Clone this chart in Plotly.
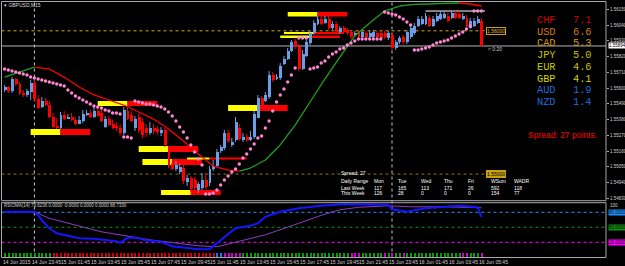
import plotly.graph_objects as go

# ---------------- data (GBPUSD M15, bar index 0 = 14 Jun 2015 22:00) ----------------
opens = [1.55587,1.55608,1.55580,1.55664,1.55629,1.55566,1.55552,1.55573,1.55636,1.55524,
         1.55475,1.55517,1.55489,1.55405,1.55342,1.55328,1.55419,1.55391,1.55405,1.55384,
         1.55356,1.55377,1.55419,1.55433,1.55405,1.55447,1.55433,1.55335,1.55391,1.55356,
         1.55342,1.55328,1.55287,1.55447,1.55419,1.55322,1.55405,1.55370,1.55322,1.55287,
         1.55328,1.55315,1.55287,1.55308,1.55175,1.55077,1.55042,1.55021,1.55049,1.54945,
         1.54973,1.54959,1.54889,1.54903,1.54959,1.54938,1.55042,1.55063,1.55168,1.55182,
         1.55287,1.55203,1.55238,1.55328,1.55238,1.55259,1.55238,1.55259,1.55398,1.55531,
         1.55517,1.55538,1.55698,1.55671,1.55671,1.55775,1.55810,1.55866,1.55929,1.55887,
         1.55740,1.55831,1.55915,1.55985,1.56054,1.56089,1.56061,1.56089,1.56020,1.56054,
         1.55992,1.56020,1.56006,1.55992,1.55971,1.55992,1.55957,1.55985,1.55957,1.55957,
         1.55985,1.55985,1.55985,1.55950,1.55971,1.55880,1.55922,1.55957,1.55922,1.55957,
         1.55985,1.56040,1.56054,1.56054,1.56096,1.56040,1.56075,1.56089,1.56096,1.56110,
         1.56096,1.56131,1.56124,1.56089,1.56096,1.56026,1.56040,1.56061,1.56075]
highs = [1.55622,1.55615,1.55677,1.55671,1.55643,1.55587,1.55594,1.55657,1.55650,1.55552,
         1.55538,1.55531,1.55510,1.55426,1.55391,1.55433,1.55440,1.55419,1.55426,1.55398,
         1.55405,1.55447,1.55447,1.55447,1.55468,1.55461,1.55454,1.55405,1.55405,1.55377,
         1.55363,1.55349,1.55468,1.55468,1.55440,1.55405,1.55426,1.55391,1.55349,1.55363,
         1.55349,1.55335,1.55328,1.55322,1.55196,1.55098,1.55091,1.55070,1.55063,1.54994,
         1.54987,1.54980,1.54945,1.55007,1.55007,1.55056,1.55098,1.55175,1.55203,1.55308,
         1.55308,1.55252,1.55398,1.55349,1.55287,1.55280,1.55301,1.55440,1.55552,1.55545,
         1.55573,1.55719,1.55712,1.55698,1.55775,1.55824,1.55880,1.55936,1.55943,1.55908,
         1.55866,1.55936,1.55999,1.56075,1.56103,1.56103,1.56103,1.56103,1.56068,1.56068,
         1.56033,1.56033,1.56020,1.56006,1.55999,1.56006,1.56006,1.55999,1.55999,1.56006,
         1.55999,1.55999,1.55999,1.55999,1.55985,1.55936,1.55964,1.55971,1.56006,1.56033,
         1.56054,1.56103,1.56103,1.56124,1.56110,1.56103,1.56124,1.56138,1.56138,1.56124,
         1.56138,1.56138,1.56138,1.56124,1.56110,1.56089,1.56089,1.56103,1.56089]
lows = [1.55573,1.55566,1.55566,1.55615,1.55552,1.55538,1.55538,1.55517,1.55503,1.55454,
        1.55461,1.55475,1.55391,1.55322,1.55315,1.55315,1.55377,1.55384,1.55370,1.55342,
        1.55349,1.55356,1.55405,1.55391,1.55391,1.55398,1.55363,1.55322,1.55335,1.55315,
        1.55301,1.55266,1.55273,1.55377,1.55363,1.55301,1.55287,1.55252,1.55259,1.55273,
        1.55280,1.55273,1.55266,1.55189,1.55042,1.55028,1.55021,1.55000,1.54931,1.54917,
        1.54875,1.54882,1.54868,1.54889,1.54896,1.54917,1.55021,1.55049,1.55147,1.55168,
        1.55217,1.55189,1.55224,1.55231,1.55224,1.55224,1.55231,1.55245,1.55391,1.55454,
        1.55503,1.55524,1.55643,1.55657,1.55657,1.55761,1.55796,1.55852,1.55873,1.55719,
        1.55726,1.55817,1.55901,1.55971,1.56040,1.56040,1.56048,1.56006,1.56006,1.55978,
        1.55978,1.55978,1.55971,1.55943,1.55957,1.55943,1.55943,1.55943,1.55943,1.55943,
        1.55943,1.55936,1.55943,1.55936,1.55866,1.55866,1.55908,1.55908,1.55908,1.55943,
        1.55971,1.56026,1.56040,1.56040,1.56026,1.56026,1.56061,1.56075,1.56082,1.56061,
        1.56082,1.56082,1.56082,1.56075,1.56026,1.56013,1.56026,1.56048,1.55894]
closes = [1.55608,1.55580,1.55664,1.55629,1.55566,1.55552,1.55580,1.55636,1.55524,1.55468,
          1.55517,1.55489,1.55405,1.55335,1.55328,1.55419,1.55391,1.55405,1.55384,1.55356,
          1.55384,1.55426,1.55433,1.55405,1.55447,1.55412,1.55377,1.55391,1.55349,1.55328,
          1.55322,1.55287,1.55454,1.55391,1.55377,1.55391,1.55308,1.55273,1.55287,1.55328,
          1.55301,1.55294,1.55308,1.55203,1.55063,1.55042,1.55070,1.55056,1.54952,1.54973,
          1.54896,1.54903,1.54931,1.54959,1.54910,1.55042,1.55063,1.55161,1.55189,1.55287,
          1.55231,1.55224,1.55370,1.55245,1.55259,1.55238,1.55259,1.55426,1.55531,1.55468,
          1.55552,1.55698,1.55657,1.55684,1.55761,1.55810,1.55866,1.55922,1.55887,1.55740,
          1.55845,1.55922,1.55985,1.56061,1.56089,1.56054,1.56089,1.56020,1.56054,1.55992,
          1.56020,1.55992,1.55985,1.55957,1.55985,1.55957,1.55992,1.55957,1.55985,1.55992,
          1.55957,1.55950,1.55957,1.55985,1.55880,1.55922,1.55950,1.55922,1.55992,1.56020,
          1.56040,1.56089,1.56089,1.56110,1.56040,1.56089,1.56110,1.56124,1.56124,1.56075,
          1.56131,1.56096,1.56096,1.56110,1.56040,1.56075,1.56075,1.56089,1.55894]

# Parabolic SAR (one dot per bar)
sar = [1.55733,1.55726,1.55719,1.55712,1.55705,1.55698,1.55691,1.55677,1.55671,1.55664,
       1.55657,1.55650,1.55643,1.55636,1.55629,1.55622,1.55615,1.55587,1.55566,1.55545,
       1.55531,1.55517,1.55503,1.55489,1.55475,1.55468,1.55461,1.55447,1.55440,1.55426,
       1.55426,1.55419,1.55259,1.55259,1.55252,1.55510,1.55503,1.55496,1.55489,1.55489,
       1.55482,1.55475,1.55468,1.55454,1.55433,1.55405,1.55370,1.55328,1.55294,1.55252,
       1.55203,1.55154,1.55105,1.55063,1.54861,1.54861,1.54868,1.54889,1.54924,1.54959,
       1.54987,1.55014,1.55035,1.55070,1.55112,1.55140,1.55175,1.55210,1.55252,1.55266,
       1.55322,1.55370,1.55440,1.55503,1.55552,1.55594,1.55643,1.55691,1.55740,1.55950,
       1.55950,1.55950,1.55733,1.55740,1.55747,1.55775,1.55789,1.55817,1.55838,1.55852,
       1.55873,1.55880,1.55901,1.55915,1.55929,1.55943,1.55943,1.55943,1.55943,1.55943,
       1.55943,1.55943,1.56131,1.56124,1.56117,1.56110,1.56096,1.56082,1.56061,1.56040,
       1.55866,1.55866,1.55873,1.55880,1.55887,1.55901,1.55915,1.55922,1.55929,1.55936,
       1.55950,1.55964,1.55978,1.55992,1.56013,1.56033,1.56138,1.56138,1.56138]

# slope-coloured moving average (vertices)
ma_idx = [0, 4, 8, 12, 16, 20, 24, 28, 32, 36, 40, 44, 48, 52, 56, 60, 63, 66, 70, 74,
          78, 82, 86, 90, 94, 98, 102, 106, 110, 114, 118, 122, 125, 128]
ma_val = [1.55677, 1.55712, 1.55747, 1.55733, 1.55677, 1.55608, 1.55552, 1.55517, 1.55482,
          1.55433, 1.55384, 1.55315, 1.55231, 1.55140, 1.55056, 1.55028, 1.55021, 1.55042,
          1.55098, 1.55203, 1.55342, 1.55503, 1.55664, 1.55817, 1.55964, 1.56054, 1.56138,
          1.56173, 1.56184, 1.56187, 1.56191, 1.56194, 1.56187, 1.56173]

# supply / demand zones: start bar, colour change bar, end bar, top, bottom
zone_start = [7, 25, 36, 37, 42, 60, 74, 76, 75, 49]
zone_mid = [15, 33, 44, 45, 50, 68, 82, 84, 83, 55]
zone_end = [23, 41, 52, 53, 58, 76, 90, 92, 91, 65]
zone_hi = [1.55315, 1.55510, 1.55196, 1.55105, 1.54889, 1.55482, 1.55967, 1.56131, 1.55992, 1.55116]
zone_lo = [1.55273, 1.55475, 1.55154, 1.55063, 1.54854, 1.55440, 1.55950, 1.56100, 1.55978, 1.55102]

round_upper = 1.56000
round_lower = 1.55000
bid_price = 1.55894
day_high = 1.56138
day_high_start = 113
day_separators = [8, 104]

# RSIOMA panel
rsi_idx = [0, 8, 9, 10, 12, 14, 17, 20, 24, 27, 30, 31, 33, 35, 36, 38, 42, 45, 49, 52,
           55, 57, 60, 62, 66, 68, 70, 74, 79, 85, 91, 103, 104, 108, 113, 122, 127, 128]
rsi_val = [81, 81, 74, 64, 48, 38, 33, 28, 27, 25, 22, 19, 29, 29, 28, 24, 21, 12, 8, 6,
           6, 18, 35, 48, 53, 58, 71, 81, 88, 93, 96, 95, 86, 81, 88, 93, 90, 71]
sig_idx = [0, 8, 12, 26, 39, 52, 57, 61, 70, 79, 85, 90, 95, 103, 109, 118, 127, 128]
sig_val = [81, 81, 68, 41, 25, 13, 11, 18, 35, 58, 74, 85, 90, 93, 91, 91, 90, 89]
rsi_levels = [80, 50, 20]
hist_runs = [("g", 13), ("r", 44), ("b", 2), ("m", 5), ("g", 29), ("m", 3), ("g", 6),
             ("m", 1), ("g", 1), ("m", 1), ("g", 2), ("m", 1), ("g", 15), ("m", 2),
             ("g", 3), ("m", 1)]

# axis labels
price_ticks = [1.56150, 1.56040, 1.55930, 1.55820, 1.55710, 1.55600, 1.55490,
               1.55380, 1.55270, 1.55160, 1.55050, 1.54940, 1.54830]
time_tick_idx = [0, 7, 15, 23, 31, 39, 47, 55, 63, 71, 79, 87, 95, 103, 111, 119, 127]
time_tick_text = ["14 Jun 2015", "14 Jun 23:45", "15 Jun 01:45", "15 Jun 03:45", "15 Jun 05:45",
                  "15 Jun 07:45", "15 Jun 09:45", "15 Jun 11:45", "15 Jun 13:45", "15 Jun 15:45",
                  "15 Jun 17:45", "15 Jun 19:45", "15 Jun 21:45", "15 Jun 23:45", "16 Jun 01:45",
                  "16 Jun 03:45", "16 Jun 05:45"]

# currency strength meter
currencies = ["CHF", "USD", "CAD", "JPY", "EUR", "GBP", "AUD", "NZD"]
strength = [7.1, 6.6, 5.3, 5.0, 4.6, 4.1, 1.9, 1.4]
cur_colors = ["#d00000", "#d87a10", "#d09a10", "#c8c000", "#c8c800", "#d4d400", "#1e6ed8", "#1e6ed8"]

# daily range table
spread_points = 27
range_header = ["Daily Range", "Mon", "Tue", "Wed", "Thu", "Fri", "WSum", "WADR"]
last_week = ["Last Week", 117, 165, 113, 171, 26, 592, 118]
this_week = ["This Week", 126, 28, 0, 0, 0, 154, 77]

# ---------------- figure ----------------
W, H = 625, 266
def px(x): return x / W
def py(y): return 1 - y / H

x_left, x_right = -0.83, 161.45
main_dom = [py(200.7), py(1.5)]
rsi_dom = [py(257.5), py(202.7)]
main_rng = [1.548141, 1.562045]
rsi_rng = [-10.4, 99.2]

BULL = "#6a9fe8"
BEAR = "#ff0000"
fig = go.Figure()

n = len(closes)
bars = list(range(n))
bull = [i for i in bars if closes[i] >= opens[i]]
bear = [i for i in bars if closes[i] < opens[i]]

# wicks
for sel, col in ((bull, BULL), (bear, BEAR)):
    xs, ys = [], []
    for i in sel:
        xs += [i, i, None]
        ys += [lows[i], highs[i], None]
    fig.add_trace(go.Scatter(x=xs, y=ys, mode="lines", line=dict(color=col, width=1),
                             hoverinfo="skip", xaxis="x", yaxis="y"))
# bodies
fig.add_trace(go.Bar(x=bull, y=[closes[i] - opens[i] for i in bull], base=[opens[i] for i in bull],
                     width=0.78, marker=dict(color=BULL, line=dict(width=0)), xaxis="x", yaxis="y"))
fig.add_trace(go.Bar(x=bear, y=[opens[i] - closes[i] for i in bear], base=[closes[i] for i in bear],
                     width=0.78, marker=dict(color=BEAR, line=dict(width=0)), xaxis="x", yaxis="y"))

# moving average coloured by slope
for col, rising in (("#1fa01f", True), ("#ff0000", False)):
    xs, ys = [], []
    for k in range(len(ma_idx) - 1):
        if (ma_val[k + 1] > ma_val[k]) == rising:
            xs += [ma_idx[k], ma_idx[k + 1], None]
            ys += [ma_val[k], ma_val[k + 1], None]
    fig.add_trace(go.Scatter(x=xs, y=ys, mode="lines", line=dict(color=col, width=1.3),
                             xaxis="x", yaxis="y"))

# SAR dots
fig.add_trace(go.Scatter(x=bars, y=sar, mode="markers",
                         marker=dict(color="#ff86d0", size=3.4, symbol="circle", line=dict(width=0)),
                         xaxis="x", yaxis="y"))

# RSIOMA histogram ticks
hist_colors = {"g": "#00a000", "r": "#d00000", "m": "#d000d0", "b": "#2070ff"}
states = []
for s, cnt in hist_runs:
    states += [s] * cnt
fig.add_trace(go.Bar(x=bars, y=[9.2] * n, base=-9.6, width=0.28,
                     marker=dict(color=[hist_colors[s] for s in states], line=dict(width=0)),
                     xaxis="x", yaxis="y2"))
fig.add_trace(go.Scatter(x=sig_idx, y=sig_val, mode="lines", line=dict(color="#8a3cc8", width=1),
                         xaxis="x", yaxis="y2"))
fig.add_trace(go.Scatter(x=rsi_idx, y=rsi_val, mode="lines", line=dict(color="#1414ff", width=2),
                         xaxis="x", yaxis="y2"))

shapes = []
for s, m, e, hi, lo in zip(zone_start, zone_mid, zone_end, zone_hi, zone_lo):
    shapes.append(dict(type="rect", xref="x", yref="y", x0=s, x1=m, y0=lo, y1=hi,
                       fillcolor="#ffff00", line=dict(width=0), layer="below"))
    shapes.append(dict(type="rect", xref="x", yref="y", x0=m, x1=e, y0=lo, y1=hi,
                       fillcolor="#ff0000", line=dict(width=0), layer="below"))

label_x = 129.3
shapes += [
    dict(type="line", xref="x", yref="y", x0=x_left, x1=label_x, y0=round_upper, y1=round_upper,
         line=dict(color="#d4a814", width=1, dash="dot"), layer="below"),
    dict(type="line", xref="x", yref="y", x0=x_left, x1=label_x, y0=round_lower, y1=round_lower,
         line=dict(color="#8c7a10", width=1, dash="dot"), layer="below"),
    dict(type="line", xref="x", yref="y", x0=x_left, x1=x_right, y0=bid_price, y1=bid_price,
         line=dict(color="#b4b4b4", width=1), layer="below"),
    dict(type="line", xref="x", yref="y", x0=day_high_start, x1=n, y0=day_high, y1=day_high,
         line=dict(color="#ffffff", width=1), layer="below"),
]
for d in day_separators:
    shapes.append(dict(type="line", xref="x", yref="paper", x0=d, x1=d, y0=rsi_dom[0], y1=main_dom[1],
                       line=dict(color="#c8c8c8", width=1, dash="dot"), layer="below"))
lvl_cols = {80: "#1e90ff", 50: "#109010", 20: "#ff00ff"}
for lv in rsi_levels:
    shapes.append(dict(type="line", xref="x", yref="y2", x0=x_left, x1=x_right, y0=lv, y1=lv,
                       line=dict(color=lvl_cols[lv], width=1, dash="dot"), layer="below"))
for yr in ("y", "y2"):
    shapes.append(dict(type="rect", xref="x domain", yref=yr + " domain", x0=0, x1=1, y0=0, y1=1,
                       line=dict(color="#a8a8a8", width=1), fillcolor="rgba(0,0,0,0)", layer="above"))

ann = []
SANS = "Liberation Sans"
def text(x, y, s, size, color, xanchor="left", xref="paper", yref="paper", family=SANS, **kw):
    kw.setdefault("borderpad", 0)
    ann.append(dict(x=x, y=y, xref=xref, yref=yref, text=s, showarrow=False, xanchor=xanchor,
                    yanchor="middle", font=dict(family=family, size=size, color=color), **kw))

text(px(3), py(5), "▾ GBPUSD,M15", 5, "#d8d8d8")
# currency strength
row_y = [20, 31.7, 43.4, 55.1, 66.8, 78.5, 90.2, 101.9]
for cname, val, col, ry in zip(currencies, strength, cur_colors, row_y):
    text(px(536), py(ry), cname, 10.3, col, family="Liberation Mono")
    text(px(572), py(ry), f"{val:.1f}", 10.3, col, family="Liberation Mono")
text(px(527), py(135), f"Spread: {spread_points} points.", 8.5, "#ff0000")
# daily range table
col_x = [340, 373, 397, 420, 443, 467, 490, 513]
text(px(340), py(173.3), f"Spread: {spread_points}", 5, "#ffffff")
for row, ry in ((range_header, 181), (last_week, 187.7), (this_week, 193.3)):
    for cx, v in zip(col_x, row):
        text(px(cx), py(ry), str(v), 5, "#ffffff")
# price level labels
text(label_x, round_upper, "1.56000", 5, "#e0b818", xref="x", yref="y",
     bordercolor="#c8a010", borderwidth=1, bgcolor="#000000")
text(label_x, round_lower, "1.55000", 5, "#000000", xref="x", yref="y",
     bordercolor="#c8a010", borderwidth=1, bgcolor="#c8a010")
text(label_x + 0.2, 1.55873, "< 0:20", 5, "#d0d0d0", xref="x", yref="y")
text(px(607.5), bid_price, "1.55894", 4.5, "#000000", yref="y", bgcolor="#ffffff")
# RSI labels
text(px(3), py(205.7), "RSIOMA(14) 79.6236 0.0000 -0.0000 0.0000 0.0000 88.7330", 4.5, "#d0d0d0")
text(px(609), py(205.5), "100", 4.5, "#d0d0d0")
for lv in rsi_levels:
    text(px(607.5), lv, f"{lv:.4f}", 4.5, "#000000", yref="y2", bgcolor=lvl_cols[lv])
# time labels
for ti, tt in zip(time_tick_idx, time_tick_text):
    text(ti, py(261.7), tt, 5, "#d0d0d0", xref="x", xshift=(-3 if ti == 0 else 0))

fig.update_layout(
    width=W, height=H, margin=dict(l=0, r=0, t=0, b=0), autosize=False,
    paper_bgcolor="#000000", plot_bgcolor="#000000", showlegend=False,
    barmode="overlay", bargap=0, shapes=shapes, annotations=ann,
    xaxis=dict(domain=[px(1.5), px(606)], range=[x_left, x_right], anchor="y2",
               showgrid=False, zeroline=False, showticklabels=False, showline=False, fixedrange=True),
    yaxis=dict(domain=main_dom, range=main_rng, side="right", anchor="x",
               tickvals=price_ticks, ticktext=[f"{v:.5f}" for v in price_ticks],
               tickfont=dict(family=SANS, size=4.5, color="#d0d0d0"), ticks="outside", ticklen=2,
               tickcolor="#a8a8a8", showgrid=False, zeroline=False, showline=False, automargin=False),
    yaxis2=dict(domain=rsi_dom, range=rsi_rng, anchor="x", showticklabels=False,
                showgrid=False, zeroline=False, showline=False),
)
fig.write_html("out.html")
